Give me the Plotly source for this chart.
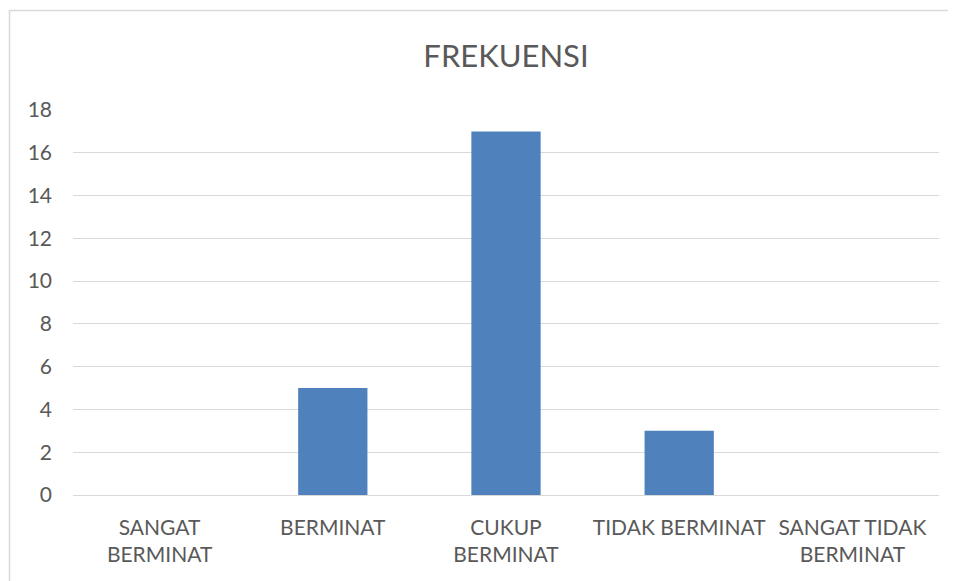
import plotly.graph_objects as go

categories = ["SANGAT<br>BERMINAT", "BERMINAT", "CUKUP<br>BERMINAT", "TIDAK BERMINAT", "SANGAT TIDAK<br>BERMINAT"]
frekuensi = [0, 5, 17, 3, 0]
y_ticks = [0, 2, 4, 6, 8, 10, 12, 14, 16, 18]

OFF = 8  # page body margin
W, H = 956 - OFF, 581 - OFF
L, T = 73 - OFF, 110 - OFF
R = W - (939 - OFF)
B = H - (495 - OFF)
pw, ph = W - L - R, H - T - B

fig = go.Figure(go.Bar(
    x=categories, y=frekuensi,
    marker=dict(color="#4f81bd", line=dict(width=0)),
    width=0.4,
))

def px_to_paper_x(px):
    return (px - OFF - L) / pw

def px_to_paper_y(py):
    return (H - B - (py - OFF)) / ph

x0 = px_to_paper_x(9.5)
x1 = px_to_paper_x(980)
ytop = px_to_paper_y(10.5)
ybot = px_to_paper_y(600)

fig.add_shape(type="path", xref="paper", yref="paper",
              path=f"M {x0} {ybot} L {x0} {ytop} L {x1} {ytop}",
              line=dict(color="#d9d9d9", width=1.5))

font_family = "Lato, 'Open Sans', sans-serif"
fig.update_layout(
    width=W, height=H,
    margin=dict(l=L, r=R, t=T, b=B),
    paper_bgcolor="white", plot_bgcolor="white",
    title=dict(text="FREKUENSI", x=0.5, xref="paper", xanchor="center",
               y=1 - (56 - OFF) / H, yref="container", yanchor="middle",
               font=dict(family=font_family, size=31, color="#595959")),
    font=dict(family=font_family, color="#595959"),
    showlegend=False,
    bargap=0.6,
)
fig.update_xaxes(showgrid=False, showline=False, ticks="", zeroline=False,
                 tickfont=dict(size=21, color="#595959"), ticklabelstandoff=18)
fig.update_yaxes(range=[0, 18], tickvals=y_ticks, showgrid=True, gridcolor="#d9d9d9", gridwidth=1.3,
                 zeroline=True, zerolinecolor="#d9d9d9", zerolinewidth=1.3,
                 showline=False, ticks="", tickfont=dict(size=21, color="#595959"),
                 ticklabelstandoff=20)

fig.write_html("out.html")
